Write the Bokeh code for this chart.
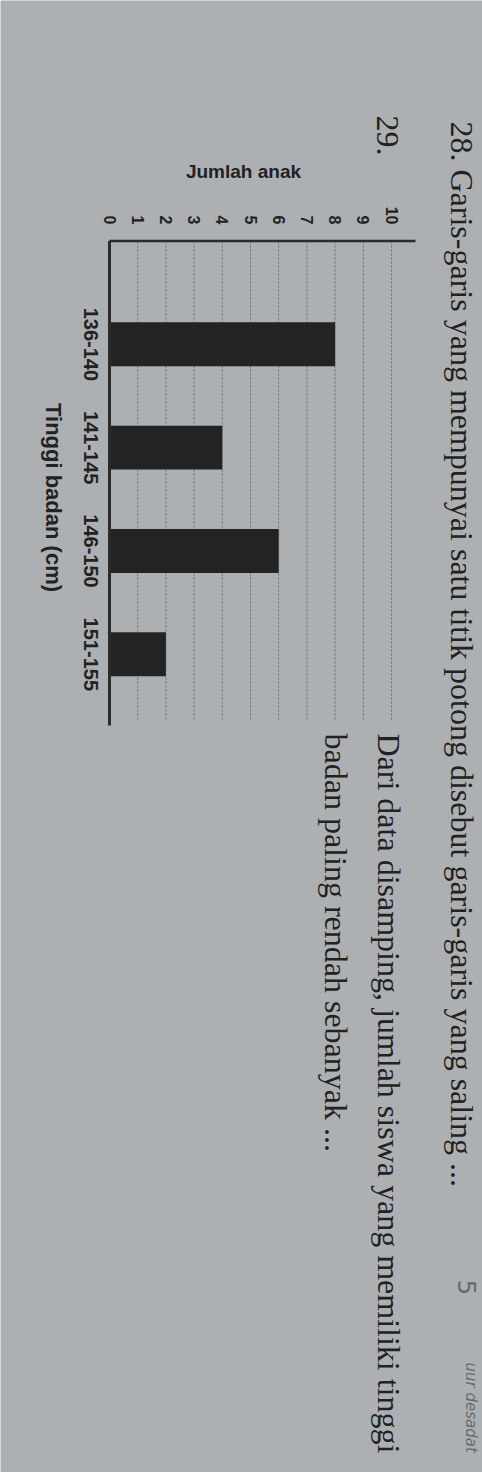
import math
from bokeh.plotting import figure
from bokeh.models import Range1d, Label, ColumnDataSource
from bokeh.core.properties import value
from bokeh.embed import file_html
from bokeh.resources import INLINE

# ---------------- data ----------------
categories = ["136-140", "141-145", "146-150", "151-155"]
jumlah_anak = [8, 4, 6, 2]
value_ticks = [0, 1, 2, 3, 4, 5, 6, 7, 8, 9, 10]
value_title = "Jumlah anak"
category_title = "Tinggi badan (cm)"
question_number = "29."
question_lines = ["Dari data disamping, jumlah siswa yang memiliki tinggi",
                  "badan paling rendah sebanyak ..."]
previous_line = "28. Garis-garis yang mempunyai satu titik potong disebut garis-garis yang saling ..."
handwriting = ["5", "uur desadat"]

# ---------------- layout ----------------
W, H = 482, 1472
PAPER = "#adb0b3"
INK = "#222222"
ROT = -math.pi / 2

# page pixel -> data helpers (used only to place texts / frame lines)
X0, XS = 109.0, 28.2     # page x of value 0, pixels per unit
Y0, YS = 240.5, 103.33   # page y of value-axis line, pixels per category step


def dx(px):
    return (px - X0) / XS


def dy(py):
    return (py - Y0) / YS


positions = [i + 1 for i in range(len(categories))]
src = ColumnDataSource(dict(cat=categories, pos=positions, val=jumlah_anak))
tick_src = ColumnDataSource(dict(t=value_ticks, lab=[str(t) for t in value_ticks]))
grid_ticks = value_ticks[1:]

p = figure(width=W, height=H, output_backend="svg", toolbar_location=None,
           x_range=Range1d(dx(0), dx(W)), y_range=Range1d(dy(H), dy(0)),
           x_axis_type=None, y_axis_type=None, min_border=0)
p.background_fill_color = PAPER
p.border_fill_color = PAPER
p.outline_line_color = None
p.grid.visible = False

x_end = dx(415)
y_end = dy(725)

# grid lines (vertical, faint, dotted)
p.segment(x0=grid_ticks, y0=[0] * len(grid_ticks), x1=grid_ticks,
          y1=[dy(721)] * len(grid_ticks),
          line_color="#808387", line_width=1, line_dash="3 1")

# bars
p.hbar(y="pos", left=0, right="val", height=0.425, source=src,
       fill_color="#232323", line_color=None)

# axis lines
p.line(x=[0, x_end], y=[0, 0], line_color="#2b2b2b", line_width=2.5)
p.line(x=[0, 0], y=[0, y_end], line_color="#2b2b2b", line_width=3)

# value tick labels (rotated, ending just above the axis line)
p.text(x="t", y=dy(224), text="lab", source=tick_src, angle=ROT,
       text_align="right", text_baseline="middle",
       text_font=value("Liberation Sans"), text_font_style="bold",
       text_font_size="16px", text_color=INK)

# category labels, rotated
p.text(x=dx(90), y="pos", text="cat", source=src, angle=ROT,
       text_align="center", text_baseline="middle",
       text_font=value("Liberation Sans"), text_font_style="bold",
       text_font_size="20px", text_color=INK)

# titles
p.add_layout(Label(x=dx(243), y=dy(171), text=value_title,
                   text_align="center", text_baseline="middle",
                   text_font="Liberation Sans", text_font_style="bold",
                   text_font_size="19px", text_color=INK))
p.add_layout(Label(x=dx(53), y=dy(497), text=category_title, angle=ROT,
                   text_align="center", text_baseline="middle",
                   text_font="Liberation Sans", text_font_style="bold",
                   text_font_size="22px", text_color=INK))

# page texts
p.add_layout(Label(x=dx(387), y=dy(135), text=question_number, angle=ROT,
                   text_align="center", text_baseline="middle",
                   text_font="Liberation Serif", text_font_size="32px", text_color=INK))
for xpix, line in zip([388, 335], question_lines):
    p.add_layout(Label(x=dx(xpix), y=dy(733), text=line, angle=ROT,
                       text_align="left", text_baseline="middle",
                       text_font="Liberation Serif", text_font_size="32px",
                       text_color=INK))
p.add_layout(Label(x=dx(461), y=dy(121), text=previous_line, angle=ROT,
                   text_align="left", text_baseline="middle",
                   text_font="Liberation Serif", text_font_size="32px", text_color=INK))

# pencil handwriting
p.add_layout(Label(x=dx(466), y=dy(1287), text=handwriting[0], angle=ROT,
                   text_align="center", text_baseline="middle",
                   text_font="DejaVu Sans", text_font_size="24px", text_color="#666b70"))
p.add_layout(Label(x=dx(470), y=dy(1362), text=handwriting[1], angle=ROT,
                   text_align="left", text_baseline="middle",
                   text_font="DejaVu Sans", text_font_style="italic",
                   text_font_size="15px", text_color="#666b70"))

open("out.html", "w").write(file_html(p, INLINE))
